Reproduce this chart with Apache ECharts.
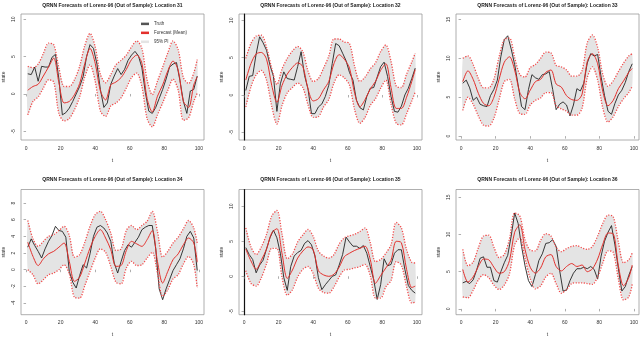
<!DOCTYPE html>
<title>qrnn lorenz</title>
<style>
body {
    margin: 0;
    background: #fff;
}
#echart {
    height: 337px;
    width: 640px;
}
</style>
<div id='echart'></div>
<script src='https://cdn.jsdelivr.net/npm/echarts@6.0.0/dist/echarts.min.js'></script>
<script>
// time steps: truth read every 2 steps, forecast and interval every 3
let t_truth = [1, 3, 5, 7, 9, 11, 13, 15, 17, 19, 21, 23, 25, 27, 29, 31, 33, 35, 37, 39, 41, 43, 45, 47, 49,
    51, 53, 55, 57, 59, 61, 63, 65, 67, 69, 71, 73, 75, 77, 79, 81, 83, 85, 87, 89, 91, 93, 95, 97, 99]
let t_fit = [1, 4, 7, 10, 13, 16, 19, 22, 25, 28, 31, 34, 37, 40, 43, 46, 49, 52, 55, 58, 61, 64, 67, 70, 73,
    76, 79, 82, 85, 88, 91, 94, 97, 99]
let x_ticks = [0, 20, 40, 60, 80, 100]

let truth_31 = [2.7, 2.6, 3.6, 1.7, 3.7, 3.6, 3.6, 4.9, 5.3, 2.0, -2.8, -2.5, -1.9, -1.0, 0.0, 1.0, 2.3, 5.0, 6.6, 6.1,
    4.0, 0.6, -1.8, -1.2, 1.3, 2.4, 3.4, 2.6, 3.3, 4.5, 5.2, 5.7, 5.1, 3.5, 0.2, -2.3, -2.6, -1.8, -0.6, 0.6,
    2.0, 3.6, 4.0, 4.2, 1.8, -1.0, -2.6, 0.4, 0.6, 2.4]
let forecast_31 = [0.5, 1.0, 1.3, 2.4, 3.6, 4.8, 1.5, -1.2, -1.0, -0.1, 1.4, 4.1, 6.1, 4.1, 0.4, -0.8, 1.2, 1.6, 2.2, 3.3,
    4.6, 5.2, 4.1, -0.6, -2.4, -0.3, 1.2, 3.1, 4.4, 3.2, -1.0, -1.8, 1.2, 2.3]
let upper_31 = [3.7, 3.5, 4.0, 5.4, 6.8, 6.6, 3.5, 1.0, 1.0, 1.9, 3.7, 6.5, 8.1, 6.3, 2.6, 1.5, 2.6, 3.9, 4.5, 5.2,
    6.3, 7.1, 6.1, 1.9, -0.1, 1.7, 3.6, 5.5, 7.1, 5.9, 2.2, 1.4, 2.8, 4.6]
let lower_31 = [-2.8, -1.0, -0.4, 0.8, 1.9, 1.6, -2.6, -3.6, -3.3, -2.1, -0.4, 2.3, 3.9, 1.7, -2.3, -3.0, -1.6, -1.2, -0.5, 0.8,
    2.2, 2.8, 1.0, -3.3, -4.4, -2.8, -1.2, 0.5, 2.0, 0.5, -3.5, -3.2, -1.0, 0.1]

let truth_32 = [0.6, 2.5, 2.6, 5.5, 7.8, 7.0, 6.0, 4.0, 2.5, -2.2, 1.5, 3.1, 2.2, 2.1, 2.0, 3.8, 5.8, 2.6, 0.8, -2.5,
    -2.5, -1.6, -1.2, -0.2, 1.3, 4.2, 6.9, 6.6, 5.6, 4.6, 3.0, 2.0, -0.7, -1.7, -2.0, -0.2, 0.9, 1.0, 2.4, 3.8,
    4.4, 2.5, -0.2, -2.2, -2.3, -1.5, 0.0, 0.9, 2.2, 3.6]
let forecast_32 = [2.0, 4.2, 5.5, 5.7, 4.8, 1.3, -1.0, 1.3, 2.8, 3.7, 4.3, 3.8, 0.8, -0.8, -0.5, 0.7, 1.8, 4.2, 5.4, 4.8,
    3.6, 0.2, -1.6, -0.6, 0.8, 1.8, 3.3, 4.2, 1.0, -1.8, -1.8, -0.3, 1.8, 3.4]
let upper_32 = [4.9, 6.9, 7.9, 8.0, 6.4, 3.6, 1.4, 3.5, 4.9, 5.9, 6.5, 5.8, 3.2, 1.8, 2.2, 3.6, 5.2, 7.5, 7.5, 7.1,
    6.9, 3.8, 1.8, 2.4, 3.5, 4.3, 5.8, 6.7, 4.5, 1.2, 1.0, 2.8, 4.4, 5.6]
let lower_32 = [-1.6, 1.1, 2.7, 3.3, 2.0, -1.5, -3.9, -1.4, 0.3, 1.0, 1.6, 1.0, -1.3, -3.0, -2.9, -1.6, -0.6, 1.6, 2.7, 2.3,
    1.3, -2.0, -3.8, -3.0, -1.4, -0.5, 0.9, 2.0, -1.2, -3.8, -4.0, -2.5, -0.8, 0.4]

let truth_33 = [6.8, 7.2, 6.2, 4.6, 5.0, 4.1, 3.9, 3.8, 5.2, 6.0, 7.2, 10.2, 12.4, 12.9, 11.2, 9.2, 6.6, 3.8, 3.4, 6.0,
    7.9, 7.5, 7.3, 7.9, 8.0, 8.3, 6.0, 3.4, 4.1, 4.4, 4.0, 2.6, 4.0, 6.1, 5.8, 6.8, 9.4, 10.6, 10.3, 10.5,
    7.6, 5.2, 3.2, 2.8, 4.2, 5.3, 5.9, 6.9, 8.3, 9.3]
let forecast_33 = [7.0, 8.4, 7.3, 5.5, 4.2, 3.9, 5.0, 7.3, 9.5, 10.2, 8.5, 5.6, 4.8, 5.9, 7.0, 7.3, 8.2, 8.5, 6.7, 6.3,
    5.2, 4.7, 4.6, 5.4, 9.6, 10.6, 9.3, 5.7, 3.9, 4.6, 6.1, 7.1, 8.2, 8.7]
let upper_33 = [10.0, 10.3, 9.2, 7.4, 6.2, 6.2, 7.3, 10.2, 12.4, 12.6, 10.1, 7.9, 7.6, 8.8, 9.2, 10.0, 10.8, 10.7, 9.1, 8.9,
    8.5, 7.7, 7.7, 8.4, 12.0, 13.0, 11.4, 7.9, 6.4, 7.1, 8.3, 9.4, 10.3, 10.6]
let lower_33 = [3.3, 5.0, 4.1, 2.6, 1.4, 1.3, 2.3, 4.7, 7.0, 7.3, 4.8, 2.9, 2.8, 4.0, 4.6, 4.9, 5.6, 5.6, 3.9, 3.5,
    3.2, 2.7, 2.7, 3.6, 7.5, 8.9, 7.2, 3.6, 1.8, 2.5, 3.8, 4.8, 5.6, 6.4]

let truth_34 = [2.7, 3.7, 2.9, 2.2, 1.4, 2.5, 3.4, 4.1, 5.2, 4.7, 4.6, 3.9, -0.2, -1.5, -2.2, -0.7, 0.6, 0.2, 1.9, 4.0,
    5.1, 5.3, 5.0, 4.4, 3.4, 0.8, -0.4, 1.0, 2.3, 3.0, 2.7, 3.3, 3.9, 4.8, 5.1, 5.3, 5.3, 2.5, -2.3, -3.6,
    -2.3, -1.2, -0.1, 0.6, 1.3, 2.5, 4.0, 4.6, 3.8, -0.1]
let forecast_34 = [3.3, 1.6, 0.5, 1.3, 1.9, 2.2, 2.7, 3.2, 1.0, -1.4, -0.9, 0.8, 2.6, 4.0, 4.8, 3.8, 2.4, 0.4, 0.5, 2.3,
    3.4, 3.1, 2.8, 3.6, 4.7, 1.0, -1.6, -0.2, 1.2, 1.9, 3.0, 3.8, 3.2, 0.9]
let upper_34 = [5.9, 3.7, 2.8, 3.4, 4.0, 4.2, 4.7, 5.2, 4.1, 1.5, 1.8, 3.3, 5.2, 6.6, 7.0, 6.0, 4.4, 2.3, 2.5, 4.7,
    5.3, 4.8, 5.3, 5.8, 7.0, 4.6, 1.5, 2.2, 3.2, 3.9, 4.9, 5.9, 5.0, 3.2]
let lower_34 = [0.0, -0.6, -1.7, -1.2, -0.6, -0.4, 0.0, 0.6, -0.5, -3.3, -3.4, -1.9, -0.2, 1.4, 2.5, 2.1, 0.4, -1.5, -1.7, 0.2,
    1.0, 0.5, 0.6, 1.4, 2.1, -0.4, -3.2, -2.4, -1.1, -0.6, 0.7, 1.6, 0.6, -2.2]

let truth_35 = [4.1, 3.1, 2.4, 0.5, 1.6, 2.3, 3.9, 5.5, 6.6, 5.5, 3.3, -0.2, -2.0, 1.4, 2.9, 3.4, 3.7, 4.7, 5.1, 4.5,
    2.9, -0.2, -1.9, -1.2, -0.6, 0.0, 0.2, 1.6, 3.1, 5.6, 4.9, 4.3, 4.3, 4.0, 4.4, 3.3, 1.4, -0.5, -3.3, -1.2,
    2.5, 1.5, 1.7, 3.3, 3.8, 3.8, 1.0, -1.3, -2.0, -2.4]
let forecast_35 = [3.9, 2.2, 1.0, 2.3, 3.9, 6.2, 6.8, 3.2, -0.3, 0.9, 2.6, 3.6, 4.2, 3.8, 0.8, 0.2, 0.0, 0.3, 1.3, 2.8,
    3.3, 3.7, 4.0, 4.3, 2.4, -1.0, 0.1, 1.2, 2.3, 5.0, 4.8, 1.0, -1.6, -1.4]
let upper_35 = [6.9, 4.2, 3.1, 4.2, 6.0, 8.6, 9.4, 6.0, 2.5, 3.2, 4.9, 5.9, 6.7, 5.7, 3.6, 2.9, 2.6, 3.1, 4.6, 5.5,
    5.8, 6.0, 6.4, 6.9, 4.8, 2.1, 2.4, 3.3, 4.5, 7.7, 6.9, 3.8, 2.0, 1.9]
let lower_35 = [0.8, -1.0, -1.4, -0.2, 1.8, 4.0, 4.0, -0.2, -2.7, -1.9, -0.1, 1.0, 1.4, 0.4, -1.7, -2.3, -2.4, -1.5, -0.1, 0.9,
    1.0, 1.2, 1.4, 1.7, 0.1, -3.1, -3.1, -1.5, -0.6, 2.1, 1.6, -1.5, -3.8, -3.7]

let truth_36 = [3.5, 3.7, 3.4, 3.9, 5.2, 6.8, 7.0, 5.6, 5.6, 3.8, 3.6, 5.0, 6.2, 7.2, 9.8, 12.9, 11.5, 8.4, 5.8, 3.8,
    3.0, 4.6, 6.5, 7.4, 8.8, 8.9, 9.3, 8.4, 5.2, 2.4, 2.5, 3.8, 4.8, 5.4, 5.4, 5.6, 5.4, 5.7, 5.3, 4.0,
    7.1, 9.1, 10.3, 11.2, 8.6, 5.4, 2.4, 3.0, 4.5, 5.7]
let forecast_36 = [5.3, 3.6, 4.3, 5.7, 6.7, 6.6, 5.6, 4.8, 5.0, 6.5, 10.3, 11.3, 8.0, 5.6, 4.8, 5.5, 7.0, 7.3, 5.7, 5.1,
    5.7, 6.1, 5.7, 5.9, 5.0, 5.4, 6.7, 8.7, 10.2, 10.1, 5.8, 3.1, 4.2, 5.9]
let upper_36 = [8.0, 5.8, 6.3, 8.2, 9.8, 9.9, 8.3, 6.9, 7.3, 9.4, 12.9, 12.5, 9.3, 7.9, 7.8, 9.2, 10.1, 9.8, 8.3, 7.7,
    8.1, 8.4, 8.5, 8.2, 8.0, 8.4, 9.8, 11.5, 12.6, 12.4, 9.0, 6.2, 6.6, 7.5]
let lower_36 = [1.6, 1.5, 2.5, 3.9, 4.6, 4.2, 3.2, 2.6, 3.2, 4.7, 8.6, 9.6, 6.8, 4.1, 2.7, 3.1, 4.3, 4.8, 3.4, 2.1,
    2.6, 3.4, 3.5, 3.5, 3.4, 3.3, 4.3, 6.2, 7.8, 7.6, 4.0, 1.2, 1.6, 3.3]

let panels = [
    {location: 31, truth: truth_31, forecast: forecast_31, upper: upper_31, lower: lower_31, ticks: [-5, 0, 5, 10], min: -6.16, max: 10.7},
    {location: 32, truth: truth_32, forecast: forecast_32, upper: upper_32, lower: lower_32, ticks: [-5, 0, 5, 10], min: -6.03, max: 10.85},
    {location: 33, truth: truth_33, forecast: forecast_33, upper: upper_33, lower: lower_33, ticks: [0, 5, 10, 15], min: -0.5, max: 15.7},
    {location: 34, truth: truth_34, forecast: forecast_34, upper: upper_34, lower: lower_34, ticks: [-4, -2, 0, 2, 4, 6, 8], min: -5.4, max: 9.62},
    {location: 35, truth: truth_35, forecast: forecast_35, upper: upper_35, lower: lower_35, ticks: [-5, 0, 5, 10], min: -5.48, max: 12.4},
    {location: 36, truth: truth_36, forecast: forecast_36, upper: upper_36, lower: lower_36, ticks: [0, 5, 10, 15], min: -0.78, max: 16.05},
]

let FONT = 'Liberation Sans'
let lefts = [21, 239, 456]
let tops = [14, 189.5]
let heights = [126, 125.2]
let WIDTH = 183
let pair = (xs, ys) => ys.map((y, j) => [xs[j], y])

let grid = [], xAxis = [], yAxis = [], series = [], graphic = []
panels.forEach(function (p, i) {
    let col = i % 3, row = Math.floor(i / 3)
    grid.push({left: lefts[col], top: tops[row], width: WIDTH, height: heights[row], show: true,
        borderColor: '#9a9a9a', borderWidth: 0.8, outerBoundsMode: 'none'})
    xAxis.push({
        gridIndex: i, type: 'value', min: -2.92, max: 102.92,
        axisLine: {show: false}, splitLine: {show: false},
        axisTick: {customValues: x_ticks, length: 2.5, lineStyle: {color: '#777', width: 0.6}},
        axisLabel: {customValues: x_ticks, fontSize: 5, color: '#333', margin: 4, fontFamily: FONT},
        name: 't', nameLocation: 'middle', nameGap: 16, nameTextStyle: {fontSize: 5, color: '#333', fontFamily: FONT},
    })
    yAxis.push({
        gridIndex: i, type: 'value', min: p.min, max: p.max,
        axisLine: {show: col == 1, lineStyle: {color: '#111', width: 1.2}}, splitLine: {show: false},
        axisTick: {show: true, customValues: p.ticks, length: 2.5, lineStyle: {color: '#777', width: 0.6}},
        axisLabel: {customValues: p.ticks, rotate: 90, fontSize: 5, color: '#333', margin: 3, fontFamily: FONT},
        name: 'state', nameLocation: 'middle', nameGap: 13, nameRotate: 90, nameTextStyle: {fontSize: 5, color: '#333', fontFamily: FONT},
    })
    graphic.push({type: 'text', x: lefts[col] + WIDTH / 2, y: row ? 180 : 5.5, silent: true,
        style: {text: `QRNN Forecasts of Lorenz-96 (Out of Sample): Location ${p.location}`, align: 'center', verticalAlign: 'middle',
            font: `bold 5px "${FONT}"`, fill: '#222'}})
    let common = {type: 'line', xAxisIndex: i, yAxisIndex: i, showSymbol: false, silent: true}
    // grey prediction band: one polygon through upper then lower bounds, placed by the axes
    series.push({
        type: 'custom', name: '95% PI', xAxisIndex: i, yAxisIndex: i, silent: true, z: 1,
        itemStyle: {color: '#e4e4e4'}, data: [[0, 0]],
        renderItem: function (params, api) {
            let top = p.upper.map((u, j) => api.coord([t_fit[j], u]))
            let bottom = p.lower.map((l, j) => api.coord([t_fit[j], l])).reverse()
            return {type: 'polygon', shape: {points: top.concat(bottom), smooth: 0.25}, style: {fill: '#e4e4e4'}}
        },
    })
    series.push({...common, name: 'Truth', data: pair(t_truth, p.truth), lineStyle: {color: '#222', width: 0.9},
        itemStyle: {color: '#555'}, z: 3})
    series.push({...common, name: 'Forecast (Mean)', data: pair(t_fit, p.forecast), smooth: 0.3,
        lineStyle: {color: '#e3302c', width: 1}, itemStyle: {color: '#e3302c'}, z: 4})
    series.push({...common, name: 'upper', data: pair(t_fit, p.upper), smooth: 0.3,
        lineStyle: {color: '#f24a4a', width: 1.3, type: [1.2, 1.5]}, z: 5})
    series.push({...common, name: 'lower', data: pair(t_fit, p.lower), smooth: 0.3,
        lineStyle: {color: '#f24a4a', width: 1.3, type: [1.2, 1.5]}, z: 5})
})

let echart = echarts.init(document.querySelector('#echart'))
echart.setOption({
    animation: false,
    backgroundColor: '#fff',
    grid, xAxis, yAxis, series, graphic,
    legend: {
        data: ['Truth', 'Forecast (Mean)', '95% PI'],
        orient: 'vertical', left: 141, top: 20, icon: 'rect', itemWidth: 8, itemHeight: 2.5, itemGap: 1.2,
        selectedMode: false, padding: 0,
        textStyle: {fontSize: 4.5, color: '#333', fontFamily: FONT, lineHeight: 4},
    },
})
</script>
